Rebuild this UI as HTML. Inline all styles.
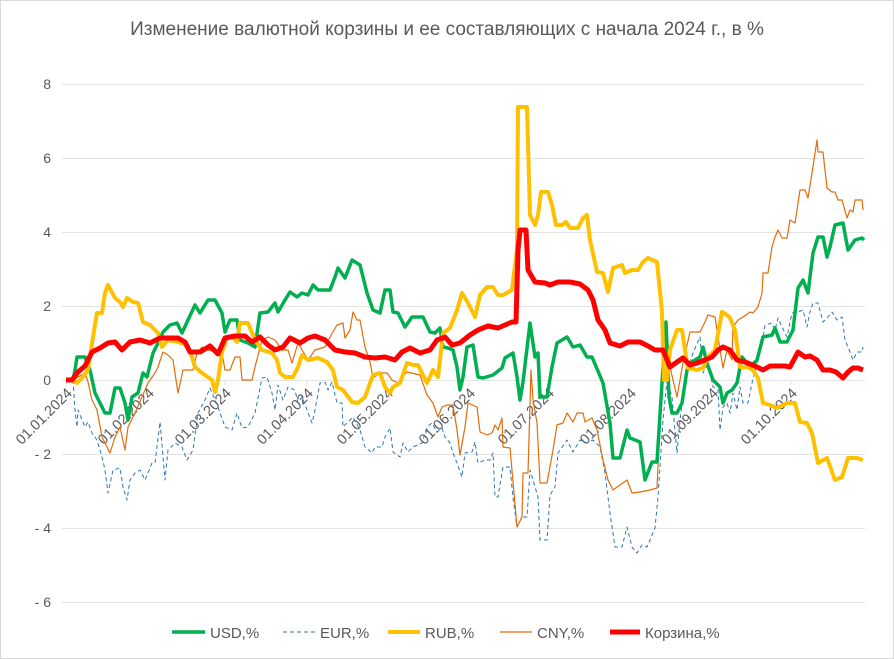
<!DOCTYPE html>
<html><head><meta charset="utf-8"><style>
html,body{margin:0;padding:0;background:#fff}
svg{display:block}
text{font-family:"Liberation Sans",sans-serif;fill:#595959}
</style></head><body>
<svg width="894" height="659" viewBox="0 0 894 659" xmlns="http://www.w3.org/2000/svg">
<rect x="0.5" y="0.5" width="893" height="658" fill="#fff" stroke="#d9d9d9"/>
<text x="447" y="35" font-size="19" text-anchor="middle">Изменение валютной корзины и ее составляющих с начала 2024 г., в %</text>
<g stroke="#e3e3e3" stroke-width="1">
<line x1="62" x2="865" y1="84.5" y2="84.5"/><line x1="62" x2="865" y1="158.5" y2="158.5"/>
<line x1="62" x2="865" y1="232.5" y2="232.5"/><line x1="62" x2="865" y1="306.5" y2="306.5"/>
<line x1="62" x2="865" y1="380.5" y2="380.5"/><line x1="62" x2="865" y1="454.5" y2="454.5"/>
<line x1="62" x2="865" y1="528.5" y2="528.5"/><line x1="62" x2="865" y1="602.5" y2="602.5"/>
<line x1="66" x2="66" y1="380" y2="385"/><line x1="148" x2="148" y1="380" y2="385"/><line x1="225" x2="225" y1="380" y2="385"/><line x1="307" x2="307" y1="380" y2="385"/><line x1="387" x2="387" y1="380" y2="385"/><line x1="469" x2="469" y1="380" y2="385"/><line x1="548" x2="548" y1="380" y2="385"/><line x1="630" x2="630" y1="380" y2="385"/><line x1="712" x2="712" y1="380" y2="385"/><line x1="791" x2="791" y1="380" y2="385"/>
</g>
<g font-size="14" text-anchor="end">
<text x="51" y="89">8</text><text x="51" y="163">6</text><text x="51" y="237">4</text><text x="51" y="311">2</text><text x="51" y="385">0</text><text x="51" y="459">- 2</text><text x="51" y="533">- 4</text><text x="51" y="607">- 6</text>
</g>
<g font-size="14.5" text-anchor="end">
<text transform="translate(73,394) rotate(-45)">01.01.2024</text>
<text transform="translate(155,394) rotate(-45)">01.02.2024</text>
<text transform="translate(232,394) rotate(-45)">01.03.2024</text>
<text transform="translate(314,394) rotate(-45)">01.04.2024</text>
<text transform="translate(394,394) rotate(-45)">01.05.2024</text>
<text transform="translate(476,394) rotate(-45)">01.06.2024</text>
<text transform="translate(555,394) rotate(-45)">01.07.2024</text>
<text transform="translate(637,394) rotate(-45)">01.08.2024</text>
<text transform="translate(719,394) rotate(-45)">01.09.2024</text>
<text transform="translate(798,394) rotate(-45)">01.10.2024</text>
</g>
<g fill="none" stroke-linejoin="round">
<polyline stroke="#2e75b6" stroke-width="1" stroke-dasharray="4,3" points="66,380 73,380 75,410 77,427 78,410 85,427 88,422 92,433 97,440 102,457 105,470 108,493 113,470 120,468 123,487 127,500 130,480 135,473 140,470 145,480 152,463 155,463 160,422 165,480 168,450 175,443 182,447 187,460 193,450 198,413 205,400 210,388 218,407 225,427 232,430 237,413 242,428 248,427 255,413 262,378 267,377 272,393 275,410 278,385 283,400 288,387 295,390 298,403 302,397 307,410 312,423 315,410 320,383 325,382 328,390 332,382 337,403 342,403 343,427 353,417 360,430 365,447 372,453 375,447 382,447 385,437 390,428 393,452 400,457 403,443 408,452 413,447 422,443 427,427 432,423 437,432 442,428 445,437 450,443 453,453 457,463 462,477 465,453 472,452 475,442 478,463 485,460 490,460 493,453 495,497 498,497 503,467 510,467 513,498 517,527 522,517 527,517 530,470 533,480 538,497 540,540 547,540 550,495 555,487 558,453 567,440 573,452 580,440 587,443 593,440 600,447 605,473 610,513 615,547 622,547 627,527 632,547 637,553 642,545 647,547 650,540 655,528 658,497 663,420 667,380 672,397 677,453 680,420 683,397 688,370 693,353 700,337 703,373 708,363 713,387 718,390 720,430 723,407 727,403 730,413 733,393 737,410 740,387 743,403 748,403 752,383 757,363 762,343 765,325 772,323 775,330 778,318 782,327 787,337 792,313 798,312 803,310 807,327 810,312 813,303 818,303 823,322 828,317 832,312 837,320 842,317 845,340 850,352 853,360 857,352 862,352 863,347"/>
<polyline stroke="#e46c0a" stroke-width="1.2" points="66,380 73,380 85,373 88,382 92,400 97,410 102,437 110,453 115,437 120,427 125,450 128,427 135,413 142,397 148,383 155,373 158,367 163,352 168,355 173,360 178,393 183,370 193,370 197,353 202,347 208,350 222,353 225,370 230,370 235,357 240,357 242,380 252,380 255,367 262,340 268,337 275,340 282,350 288,350 292,363 298,343 308,360 315,350 325,347 330,337 337,325 343,323 345,338 350,330 353,312 357,320 360,320 365,347 370,362 373,378 380,373 387,373 392,380 398,383 402,377 407,372 420,375 427,395 433,403 438,417 442,407 447,405 453,405 457,430 460,455 465,427 468,403 477,407 480,432 487,435 492,433 495,425 498,430 502,418 503,447 510,448 517,527 522,517 523,473 528,473 531,370 533,400 537,423 540,483 547,483 553,450 557,425 563,423 567,413 573,422 577,413 583,413 585,422 592,418 597,430 603,460 608,480 613,490 627,480 632,493 640,492 650,490 657,488 660,420 666,322 670,367 677,397 683,363 690,332 700,332 705,322 708,315 715,317 718,337 723,368 727,350 732,360 733,327 738,320 743,317 750,312 753,313 758,307 762,293 763,273 768,273 772,247 775,237 778,230 782,238 787,238 790,220 795,223 800,190 805,190 808,198 812,173 817,140 818,152 823,152 827,188 832,192 835,192 838,200 842,200 847,218 850,210 853,212 855,200 862,200 863,210"/>
<polyline stroke="#00b050" stroke-width="3.5" points="66,380 73,380 75,370 77,357 85,357 90,370 95,393 105,413 110,413 115,388 120,388 125,403 128,420 132,397 138,393 143,373 147,377 153,353 158,343 163,332 170,325 177,323 182,333 188,320 195,305 200,313 208,300 215,300 222,313 225,332 230,320 237,320 240,340 248,343 255,347 260,313 268,312 275,303 278,312 285,300 290,292 297,297 302,293 308,295 313,285 318,290 330,290 335,277 338,268 345,278 352,260 360,265 367,293 373,310 380,313 385,290 390,290 393,312 398,313 405,327 412,317 423,317 430,332 435,333 440,328 443,347 448,348 453,350 457,367 460,390 463,377 467,347 473,345 478,377 483,378 493,375 502,368 505,358 513,353 517,377 520,400 523,382 530,323 535,357 538,353 540,397 547,397 552,367 557,343 567,337 573,347 580,345 587,357 592,357 603,383 610,423 613,458 620,458 627,430 630,438 640,442 645,480 652,462 657,462 662,383 666,322 669,397 672,413 677,413 682,403 687,370 690,363 700,357 703,347 707,363 713,380 720,387 723,403 727,393 732,390 737,383 742,357 750,367 757,360 763,337 772,335 775,328 780,342 787,342 793,330 798,288 803,280 808,293 813,253 818,237 823,237 827,257 830,247 835,225 843,223 848,250 855,240 862,238 864,240"/>
<polyline stroke="#ffc000" stroke-width="4" points="66,380 73,380 77,383 82,378 88,370 93,337 97,313 102,313 105,293 108,285 115,298 120,302 123,307 127,298 133,302 138,303 143,322 150,325 158,333 162,347 168,340 178,342 187,345 192,357 195,367 202,373 212,380 215,392 218,380 222,352 227,338 232,337 237,342 240,323 248,323 252,333 257,343 262,350 272,353 277,360 280,373 285,377 293,377 298,367 302,355 308,360 318,358 327,362 333,370 337,387 343,390 352,402 358,403 365,397 370,383 373,375 380,373 385,387 390,393 393,387 400,383 407,363 413,365 418,365 423,375 427,383 433,370 438,377 443,333 450,328 457,310 462,293 468,303 475,317 480,295 487,287 493,287 498,295 503,295 512,290 514,273 517,250 518,107 527,107 530,215 535,225 538,215 541,192 548,192 552,205 556,225 562,225 566,222 570,228 578,228 583,218 587,215 590,240 597,272 603,273 608,292 613,268 622,265 625,273 632,270 638,270 643,262 648,258 657,262 662,312 664,380 667,380 670,350 677,330 682,330 685,350 688,368 697,370 703,368 708,357 715,350 722,312 727,315 730,318 735,330 740,367 747,367 753,370 758,378 763,403 770,405 777,408 787,403 795,403 800,422 807,423 812,433 818,463 827,458 835,480 842,477 848,458 857,458 863,460"/>
<polyline stroke="#ff0000" stroke-width="5" points="66,380 72,380 78,372 85,366 92,352 100,348 108,343 115,342 122,350 130,342 140,340 150,343 160,338 170,338 178,338 185,342 190,352 200,352 210,346 218,354 225,338 235,336 245,336 252,342 260,337 268,345 275,350 283,347 290,338 300,343 308,338 315,336 325,340 335,350 345,352 355,353 365,357 375,358 385,357 395,360 402,352 410,348 420,353 430,350 437,340 445,337 452,345 460,343 470,335 478,330 488,326 498,328 505,325 512,322 516,322 518,250 520,230 526,230 528,270 535,282 545,283 550,285 558,282 570,282 580,284 588,290 593,300 598,320 605,330 610,343 620,346 628,342 640,342 648,346 655,350 663,350 670,367 677,362 683,358 690,365 697,363 705,360 712,357 718,350 723,347 730,350 737,360 745,362 755,366 763,370 770,366 778,366 785,366 790,367 798,352 805,357 810,356 817,360 823,370 830,370 836,372 843,378 848,372 853,368 858,368 863,370"/>
</g>
<g font-size="15">
<line x1="172" x2="205" y1="632" y2="632" stroke="#00b050" stroke-width="3.5"/><text x="210" y="638">USD,%</text>
<line x1="283" x2="315" y1="632" y2="632" stroke="#2e75b6" stroke-width="1" stroke-dasharray="4,3"/><text x="320" y="638">EUR,%</text>
<line x1="388" x2="420" y1="632" y2="632" stroke="#ffc000" stroke-width="4"/><text x="425" y="638">RUB,%</text>
<line x1="500" x2="532" y1="632" y2="632" stroke="#e46c0a" stroke-width="1.2"/><text x="537" y="638">CNY,%</text>
<line x1="610" x2="640" y1="632" y2="632" stroke="#ff0000" stroke-width="5"/><text x="645" y="638">Корзина,%</text>
</g>
</svg>
</body></html>
